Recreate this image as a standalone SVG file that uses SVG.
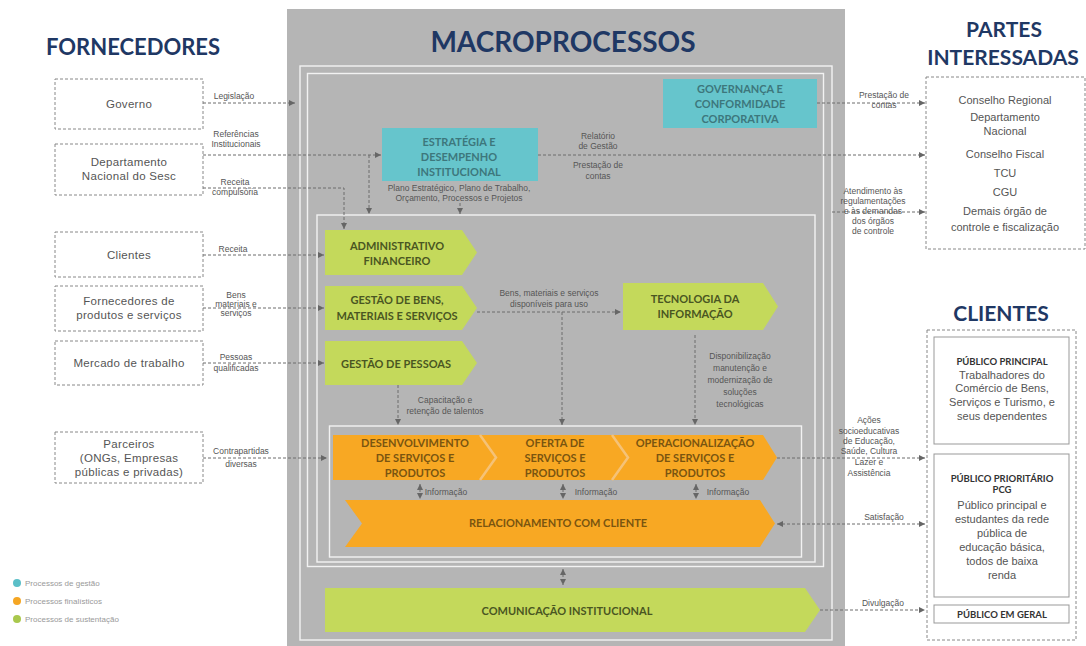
<svg xmlns="http://www.w3.org/2000/svg" width="1086" height="646" viewBox="0 0 1086 646">
<defs>
<marker id="ah" viewBox="0 0 6 6" markerWidth="6" markerHeight="6" refX="6" refY="3" orient="auto-start-reverse" markerUnits="userSpaceOnUse"><path d="M0,0 L6,3 L0,6 z" fill="#666"/></marker>
<style>
.title{font-family:Lato,"Liberation Sans",sans-serif;font-weight:700;fill:#1f3864;text-anchor:middle}
.box{fill:#fff;stroke:#888;stroke-width:1;stroke-dasharray:3,2}
.bt{font-family:"Liberation Sans",Arial,sans-serif;font-size:11.5px;fill:#555;text-anchor:middle;letter-spacing:0.3px}
.lbl{font-family:"Liberation Sans",Arial,sans-serif;font-size:8.5px;fill:#555;text-anchor:middle}
.dash{fill:none;stroke:#6d6d6d;stroke-width:1;stroke-dasharray:3,2}
.frame{fill:none;stroke:#f2f2f2;stroke-width:1.4}
.teal{fill:#66c5cc}
.green{fill:#c4d95b}
.orange{fill:#f8a823}
.tt{font-family:Lato,"Liberation Sans",sans-serif;font-weight:700;font-size:11px;fill:#3d777c;text-anchor:middle}
.gt{font-family:Lato,"Liberation Sans",sans-serif;font-weight:700;font-size:11px;fill:#4a5622;text-anchor:middle}
.ot{font-family:Lato,"Liberation Sans",sans-serif;font-weight:700;font-size:11px;fill:#7a5510;text-anchor:middle}
.inner{fill:#fff;stroke:#999;stroke-width:1}
.ct{font-family:"Liberation Sans",Arial,sans-serif;font-size:11px;fill:#555;text-anchor:middle}
.cb{font-family:Lato,"Liberation Sans",sans-serif;font-weight:700;font-size:9.5px;fill:#333;text-anchor:middle}
.leg{font-family:"Liberation Sans",Arial,sans-serif;font-size:8px;fill:#999}
</style>
</defs>
<rect width="1086" height="646" fill="#fff"/>
<rect x="287" y="9" width="558" height="637" fill="#b5b5b5"/>

<text class="title" x="133" y="55" font-size="22">FORNECEDORES</text>
<text class="title" x="563" y="52" font-size="28">MACROPROCESSOS</text>
<text class="title" x="1004" y="37" font-size="21">PARTES</text>
<text class="title" x="1003" y="65" font-size="21">INTERESSADAS</text>
<text class="title" x="1001" y="321" font-size="21">CLIENTES</text>

<g id="frames">
<rect class="frame" x="300" y="66" width="532" height="574"/>
<rect class="frame" x="307.5" y="73.5" width="516" height="493"/>
<rect class="frame" x="317" y="215" width="498" height="347"/>
<rect class="frame" x="329.5" y="426" width="472" height="131"/>
</g>

<g id="governo"><rect class="box" x="55" y="79" width="148" height="50"/><text class="bt" x="129" y="108">Governo</text></g>
<g id="departamento-nacional"><rect class="box" x="55" y="144" width="148" height="51"/><text class="bt" x="129" y="166">Departamento</text><text class="bt" x="129" y="180">Nacional do Sesc</text></g>
<g id="clientes-forn"><rect class="box" x="55" y="232" width="148" height="45"/><text class="bt" x="129" y="259">Clientes</text></g>
<g id="fornecedores-produtos"><rect class="box" x="55" y="286" width="148" height="45"/><text class="bt" x="129" y="305">Fornecedores de</text><text class="bt" x="129" y="319">produtos e serviços</text></g>
<g id="mercado"><rect class="box" x="55" y="341" width="148" height="44"/><text class="bt" x="129" y="367">Mercado de trabalho</text></g>
<g id="parceiros"><rect class="box" x="55" y="432" width="148" height="51"/><text class="bt" x="129" y="448">Parceiros</text><text class="bt" x="129" y="462">(ONGs, Empresas</text><text class="bt" x="129" y="476">públicas e privadas)</text></g>

<g id="governanca"><rect class="teal" x="663" y="79" width="154" height="49"/><text class="tt" x="740" y="93">GOVERNANÇA E</text><text class="tt" x="740" y="108">CONFORMIDADE</text><text class="tt" x="740" y="123">CORPORATIVA</text></g>
<g id="estrategia"><rect class="teal" x="382" y="128" width="156" height="53"/><text class="tt" x="459" y="146">ESTRATÉGIA E</text><text class="tt" x="459" y="161">DESEMPENHO</text><text class="tt" x="459" y="176">INSTITUCIONAL</text></g>

<g id="administrativo"><polygon class="green" points="325,230 462,230 477,252.5 462,275 325,275"/><text class="gt" x="397" y="250">ADMINISTRATIVO</text><text class="gt" x="397" y="265">FINANCEIRO</text></g>
<g id="gestao-bens"><polygon class="green" points="325,286 462,286 477,308 462,330 325,330"/><text class="gt" x="397" y="304">GESTÃO DE BENS,</text><text class="gt" x="397" y="320">MATERIAIS E SERVIÇOS</text></g>
<g id="gestao-pessoas"><polygon class="green" points="325,341 462,341 477,363 462,385 325,385"/><text class="gt" x="396" y="368">GESTÃO DE PESSOAS</text></g>
<g id="ti"><polygon class="green" points="623,283 763,283 778,306.5 763,330 623,330"/><text class="gt" x="695" y="303">TECNOLOGIA DA</text><text class="gt" x="695" y="318">INFORMAÇÃO</text></g>

<g id="finalisticos">
<polygon class="orange" points="333,435 763,435 777,457.5 763,480 333,480"/>
<polyline points="480,435 496,457.5 480,480" fill="none" stroke="#f5c277" stroke-width="2.5"/>
<polyline points="612,435 628,457.5 612,480" fill="none" stroke="#f5c277" stroke-width="2.5"/>
</g>
<g id="desenvolvimento"><text class="ot" x="415" y="447">DESENVOLVIMENTO</text><text class="ot" x="415" y="462">DE SERVIÇOS E</text><text class="ot" x="415" y="477">PRODUTOS</text></g>
<g id="oferta"><text class="ot" x="555" y="447">OFERTA DE</text><text class="ot" x="555" y="462">SERVIÇOS E</text><text class="ot" x="555" y="477">PRODUTOS</text></g>
<g id="operacionalizacao"><text class="ot" x="695" y="447">OPERACIONALIZAÇÃO</text><text class="ot" x="695" y="462">DE SERVIÇOS E</text><text class="ot" x="695" y="477">PRODUTOS</text></g>
<g id="relacionamento"><polygon class="orange" points="345,500 760,500 775,523.5 760,547 345,547 362,523.5"/><text class="ot" x="558" y="527">RELACIONAMENTO COM CLIENTE</text></g>
<g id="comunicacao"><polygon class="green" points="325,588 805,588 820,610 805,632 325,632"/><text class="gt" x="567" y="615">COMUNICAÇÃO INSTITUCIONAL</text></g>

<g id="partes-interessadas"><rect class="box" x="926" y="77" width="159" height="172"/>
<text class="ct" x="1005" y="104">Conselho Regional</text>
<text class="ct" x="1005" y="121">Departamento</text>
<text class="ct" x="1005" y="135">Nacional</text>
<text class="ct" x="1005" y="158">Conselho Fiscal</text>
<text class="ct" x="1005" y="177">TCU</text>
<text class="ct" x="1005" y="196">CGU</text>
<text class="ct" x="1005" y="215">Demais órgão de</text>
<text class="ct" x="1005" y="231">controle e fiscalização</text>
</g>
<g id="clientes"><rect class="box" x="927" y="330" width="149" height="310"/>
<rect class="inner" x="934" y="337" width="135" height="107"/>
<text class="cb" x="1002" y="365">PÚBLICO PRINCIPAL</text>
<text class="ct" x="1002" y="379">Trabalhadores do</text>
<text class="ct" x="1002" y="392">Comércio de Bens,</text>
<text class="ct" x="1002" y="406">Serviços e Turismo, e</text>
<text class="ct" x="1002" y="420">seus dependentes</text>
<rect class="inner" x="934" y="454" width="135" height="143"/>
<text class="cb" x="1002" y="482">PÚBLICO PRIORITÁRIO</text>
<text class="cb" x="1002" y="493">PCG</text>
<text class="ct" x="1002" y="509">Público principal e</text>
<text class="ct" x="1002" y="523">estudantes da rede</text>
<text class="ct" x="1002" y="537">pública de</text>
<text class="ct" x="1002" y="551">educação básica,</text>
<text class="ct" x="1002" y="565">todos de baixa</text>
<text class="ct" x="1002" y="579">renda</text>
<rect class="inner" x="934" y="605" width="135" height="18"/>
<text class="cb" x="1002" y="618">PÚBLICO EM GERAL</text>
</g>

<g id="connectors">
<line class="dash" x1="203" y1="103" x2="295" y2="103" marker-end="url(#ah)"/>
<line class="dash" x1="203" y1="155" x2="381" y2="155" marker-end="url(#ah)"/>
<line class="dash" x1="369" y1="155" x2="369" y2="214" marker-end="url(#ah)"/>
<polyline class="dash" points="203,188 344,188 344,229" marker-end="url(#ah)"/>
<line class="dash" x1="460" y1="203" x2="460" y2="214" marker-end="url(#ah)"/>
<line class="dash" x1="203" y1="255" x2="324" y2="255" marker-end="url(#ah)"/>
<line class="dash" x1="203" y1="308" x2="324" y2="308" marker-end="url(#ah)"/>
<line class="dash" x1="203" y1="363" x2="324" y2="363" marker-end="url(#ah)"/>
<line class="dash" x1="203" y1="458" x2="327" y2="458" marker-end="url(#ah)"/>
<line class="dash" x1="477" y1="312" x2="621" y2="312" marker-end="url(#ah)"/>
<line class="dash" x1="562" y1="312" x2="562" y2="425" marker-end="url(#ah)"/>
<line class="dash" x1="695" y1="335" x2="695" y2="425" marker-end="url(#ah)"/>
<line class="dash" x1="398" y1="385" x2="398" y2="425" marker-end="url(#ah)"/>
<line class="dash" x1="420" y1="484" x2="420" y2="499" marker-start="url(#ah)" marker-end="url(#ah)"/>
<line class="dash" x1="563" y1="484" x2="563" y2="499" marker-start="url(#ah)" marker-end="url(#ah)"/>
<line class="dash" x1="696" y1="484" x2="696" y2="499" marker-start="url(#ah)" marker-end="url(#ah)"/>
<line class="dash" x1="563" y1="569" x2="563" y2="585" marker-start="url(#ah)" marker-end="url(#ah)"/>
<line class="dash" x1="817" y1="103" x2="925" y2="103" marker-end="url(#ah)"/>
<line class="dash" x1="538" y1="155" x2="925" y2="155" marker-end="url(#ah)"/>
<line class="dash" x1="832" y1="212" x2="925" y2="212" marker-end="url(#ah)"/>
<line class="dash" x1="777" y1="458" x2="925" y2="458" marker-end="url(#ah)"/>
<line class="dash" x1="777" y1="524" x2="925" y2="524" marker-start="url(#ah)" marker-end="url(#ah)"/>
<line class="dash" x1="820" y1="610" x2="925" y2="610" marker-end="url(#ah)"/>
</g>

<g id="labels">
<text class="lbl" x="234" y="99">Legislação</text>
<text class="lbl" x="236" y="137">Referências</text>
<text class="lbl" x="236" y="147">Institucionais</text>
<text class="lbl" x="235" y="185">Receita</text>
<text class="lbl" x="235" y="195">compulsória</text>
<text class="lbl" x="233" y="252">Receita</text>
<text class="lbl" x="236" y="298">Bens</text>
<text class="lbl" x="236" y="307">materiais e</text>
<text class="lbl" x="236" y="316">serviços</text>
<text class="lbl" x="236" y="360">Pessoas</text>
<text class="lbl" x="236" y="371">qualificadas</text>
<text class="lbl" x="241" y="454">Contrapartidas</text>
<text class="lbl" x="241" y="467">diversas</text>
<text class="lbl" x="459" y="191">Plano Estratégico, Plano de Trabalho,</text>
<text class="lbl" x="459" y="201">Orçamento, Processos e Projetos</text>
<text class="lbl" x="598" y="139">Relatório</text>
<text class="lbl" x="598" y="149">de Gestão</text>
<text class="lbl" x="598" y="168">Prestação de</text>
<text class="lbl" x="598" y="179">contas</text>
<text class="lbl" x="549" y="296">Bens, materiais e serviços</text>
<text class="lbl" x="549" y="307">disponíveis para uso</text>
<text class="lbl" x="445" y="403">Capacitação e</text>
<text class="lbl" x="445" y="414">retenção de talentos</text>
<text class="lbl" x="740" y="359">Disponibilização</text>
<text class="lbl" x="740" y="371">manutenção e</text>
<text class="lbl" x="740" y="383">modernização de</text>
<text class="lbl" x="740" y="395">soluções</text>
<text class="lbl" x="740" y="407">tecnológicas</text>
<text class="lbl" x="446" y="495">Informação</text>
<text class="lbl" x="596" y="495">Informação</text>
<text class="lbl" x="728" y="495">Informação</text>
<text class="lbl" x="884" y="98">Prestação de</text>
<text class="lbl" x="884" y="108">contas</text>
<text class="lbl" x="873" y="194">Atendimento às</text>
<text class="lbl" x="873" y="204">regulamentações</text>
<text class="lbl" x="873" y="214">e às demandas</text>
<text class="lbl" x="873" y="224">dos órgãos</text>
<text class="lbl" x="873" y="234">de controle</text>
<text class="lbl" x="869" y="423">Ações</text>
<text class="lbl" x="869" y="434">socioeducativas</text>
<text class="lbl" x="869" y="444">de Educação,</text>
<text class="lbl" x="869" y="454">Saúde, Cultura</text>
<text class="lbl" x="869" y="465">Lazer e</text>
<text class="lbl" x="869" y="476">Assistência</text>
<text class="lbl" x="884" y="520">Satisfação</text>
<text class="lbl" x="883" y="606">Divulgação</text>
</g>

<g id="legenda">
<circle cx="17" cy="583" r="4" fill="#5bbfc8"/><text class="leg" x="25" y="586">Processos de gestão</text>
<circle cx="17" cy="601" r="4" fill="#f5a623"/><text class="leg" x="25" y="604">Processos finalísticos</text>
<circle cx="17" cy="619" r="4" fill="#a9c84d"/><text class="leg" x="25" y="622">Processos de sustentação</text>
</g>
</svg>
